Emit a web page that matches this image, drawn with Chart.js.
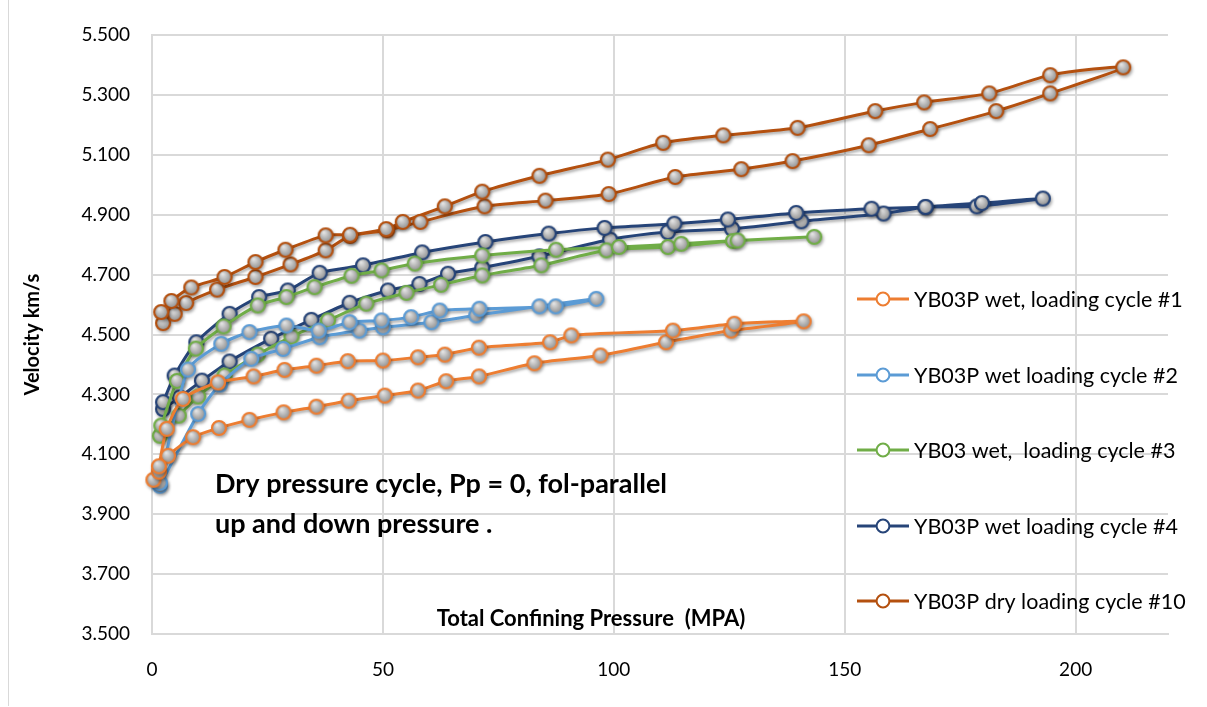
<!DOCTYPE html>
<html>
<head>
<meta charset="utf-8">
<script src="https://cdn.jsdelivr.net/npm/chart.js@4.4.1/dist/chart.umd.min.js"></script>
<style>
  html, body { margin: 0; padding: 0; background: #ffffff; }
  #wrap { width: 1207px; height: 707px; }
</style>
</head>
<body>
<div id="wrap"><canvas id="chart" width="1207" height="707"></canvas></div>
<script>
// Ultrasonic velocity vs. total confining pressure, sample YB03P.
// Each cycle is listed loading (up) then unloading (down).

const seriesLabels = [
  'YB03P wet, loading cycle #1',
  'YB03P wet loading cycle #2',
  'YB03 wet,  loading cycle #3',
  'YB03P wet loading cycle #4',
  'YB03P dry loading cycle #10'
];
const seriesColors = ['#ED7D31', '#5B9BD5', '#70AD47', '#264478', '#B4500F'];

// cycle #1 (wet)
const pressure1 = [0.3, 1.5, 3.5, 8.9, 14.5, 21.1, 28.5, 35.6, 42.6, 50.4, 57.6, 63.7, 70.8, 82.8, 97.1, 111.3, 125.4, 141.1,
                   126.1, 112.8, 90.8, 86.2, 70.8, 63.4, 57.6, 50.0, 42.4, 35.6, 28.7, 22.0, 14.3, 6.7, 3.2, 1.5];
const velocity1 = [4.015, 4.042, 4.095, 4.157, 4.188, 4.215, 4.240, 4.259, 4.279, 4.296, 4.313, 4.344, 4.360, 4.404, 4.430, 4.474, 4.513, 4.544,
                   4.536, 4.513, 4.497, 4.474, 4.456, 4.433, 4.424, 4.413, 4.411, 4.396, 4.382, 4.360, 4.340, 4.285, 4.185, 4.060];

// cycle #2 (wet)
const pressure2 = [1.7, 10.0, 14.7, 21.5, 28.4, 36.3, 44.9, 50.0, 60.5, 70.2, 83.9, 96.2,
                   87.4, 70.9, 62.3, 56.1, 49.7, 42.8, 36.1, 29.1, 21.1, 15.0, 7.8, 1.7];
const velocity2 = [3.995, 4.235, 4.333, 4.419, 4.452, 4.491, 4.513, 4.524, 4.541, 4.564, 4.594, 4.619,
                   4.594, 4.586, 4.580, 4.558, 4.547, 4.541, 4.513, 4.530, 4.508, 4.469, 4.383, 4.005];

// cycle #3 (wet)
const pressure3 = [1.7, 5.8, 10.0, 15.7, 22.9, 30.2, 38.1, 46.4, 55.1, 62.6, 71.5, 84.3, 98.4, 111.7, 125.8, 143.4,
                   126.8, 114.6, 101.1, 87.5, 71.5, 56.9, 49.7, 43.2, 35.2, 29.1, 22.9, 15.5, 9.5, 5.4, 2.0];
const velocity3 = [4.162, 4.229, 4.293, 4.363, 4.433, 4.493, 4.547, 4.603, 4.639, 4.666, 4.697, 4.731, 4.781, 4.792, 4.812, 4.826,
                   4.814, 4.803, 4.792, 4.783, 4.764, 4.737, 4.714, 4.696, 4.658, 4.625, 4.597, 4.527, 4.453, 4.345, 4.196];

// cycle #4 (wet)
const pressure4 = [2.4, 6.0, 10.8, 16.8, 25.8, 34.5, 42.8, 51.1, 57.9, 64.1, 71.5, 83.9, 99.2, 111.7, 125.6, 140.6, 158.4, 167.5, 178.6, 192.9,
                   179.7, 167.5, 155.8, 139.5, 124.7, 113.1, 98.0, 85.9, 72.2, 58.5, 45.7, 36.3, 29.4, 23.2, 16.8, 9.6, 4.9, 2.4];
const velocity4 = [4.251, 4.290, 4.346, 4.410, 4.486, 4.549, 4.606, 4.647, 4.669, 4.703, 4.723, 4.761, 4.817, 4.842, 4.853, 4.878, 4.904, 4.925, 4.928, 4.954,
                   4.939, 4.926, 4.920, 4.906, 4.884, 4.870, 4.856, 4.837, 4.809, 4.774, 4.731, 4.706, 4.647, 4.625, 4.569, 4.474, 4.363, 4.274];

// cycle #10 (dry)
const pressure10 = [2.4, 4.9, 7.4, 14.1, 22.4, 30.0, 37.6, 42.9, 50.9, 58.1, 72.0, 85.2, 98.9, 113.3, 127.6, 138.7, 155.2, 168.5, 182.8, 194.5, 210.3,
                    194.5, 181.3, 167.2, 156.6, 139.8, 123.7, 110.7, 98.7, 83.9, 71.5, 63.4, 54.3, 50.7, 42.9, 37.6, 28.9, 22.4, 15.7, 8.5, 4.2, 2.0];
const velocity10 = [4.538, 4.569, 4.605, 4.650, 4.692, 4.734, 4.781, 4.829, 4.848, 4.876, 4.928, 4.947, 4.969, 5.026, 5.052, 5.079, 5.132, 5.186, 5.246, 5.305, 5.392,
                    5.366, 5.305, 5.275, 5.246, 5.190, 5.165, 5.140, 5.084, 5.030, 4.977, 4.928, 4.876, 4.852, 4.833, 4.831, 4.783, 4.742, 4.692, 4.657, 4.612, 4.575];

const xTickValues = [0, 50, 100, 150, 200];
const yTickValues = [3.5, 3.7, 3.9, 4.1, 4.3, 4.5, 4.7, 4.9, 5.1, 5.3, 5.5];

const noteLines = ['Dry pressure cycle, Pp = 0, fol-parallel', 'up and down pressure .'];
const xTitle = 'Total Confining Pressure  (MPA)';
const yTitle = 'Velocity km/s';

const FONT = 'Lato, "Open Sans", sans-serif';
const GRID = '#d9d9d9';

function toPoints(xs, ys) {
  return xs.map((x, i) => ({ x: x, y: ys[i] }));
}

// Hollow circle marker with a grey shaded interior
function makeMarker(color) {
  const s = 22, c = document.createElement('canvas');
  c.width = s; c.height = s;
  const g = c.getContext('2d');
  const cx = s / 2, cy = s / 2, r = 7;
  const grad = g.createRadialGradient(cx - 2, cy - 3, 0.5, cx, cy, r + 1);
  grad.addColorStop(0, '#e4e4e4');
  grad.addColorStop(1, '#868686');
  g.beginPath();
  g.arc(cx, cy, r, 0, Math.PI * 2);
  g.fillStyle = grad;
  g.fill();
  g.lineWidth = 2.2;
  g.strokeStyle = color;
  g.stroke();
  return c;
}

const allPressures = [pressure1, pressure2, pressure3, pressure4, pressure10];
const allVelocities = [velocity1, velocity2, velocity3, velocity4, velocity10];

const datasets = seriesLabels.map((label, i) => ({
  label: label,
  data: toPoints(allPressures[i], allVelocities[i]),
  showLine: true,
  borderColor: seriesColors[i],
  backgroundColor: seriesColors[i],
  borderWidth: 3,
  tension: 0.25,
  pointStyle: makeMarker(seriesColors[i]),
  pointRadius: 7,
  pointHoverRadius: 7,
  clip: false
}));

// soft drop shadow under every series
const shadowPlugin = {
  id: 'seriesShadow',
  beforeDatasetDraw(chart) {
    const c = chart.ctx;
    c.save();
    c.shadowColor = 'rgba(0,0,0,0.35)';
    c.shadowBlur = 3;
    c.shadowOffsetX = 1.2;
    c.shadowOffsetY = 2;
  },
  afterDatasetDraw(chart) {
    chart.ctx.restore();
  }
};

// in-plot legend, axis caption and note text
const overlayPlugin = {
  id: 'overlay',
  afterDraw(chart) {
    const c = chart.ctx;
    c.save();

    // outer frame
    c.strokeStyle = '#d9d9d9';
    c.lineWidth = 1;
    c.beginPath();
    c.moveTo(8.5, 0);
    c.lineTo(8.5, 706);
    c.stroke();

    // note
    c.fillStyle = '#000000';
    c.font = 'bold 27px ' + FONT;
    c.textAlign = 'left';
    c.textBaseline = 'middle';
    c.fillText(noteLines[0], 215, 484);
    c.fillText(noteLines[1], 215, 524);

    // x axis caption inside the plot
    c.font = 'bold 22px ' + FONT;
    c.textAlign = 'center';
    c.fillText(xTitle, 591, 619);

    // legend
    const ly = [299, 375, 450, 526, 601];
    c.font = '21.5px ' + FONT;
    c.textAlign = 'left';
    chart.data.datasets.forEach((ds, i) => {
      const y = ly[i];
      c.strokeStyle = ds.borderColor;
      c.lineWidth = 3;
      c.beginPath();
      c.moveTo(857, y);
      c.lineTo(909, y);
      c.stroke();
      c.beginPath();
      c.arc(883, y, 6.4, 0, Math.PI * 2);
      c.fillStyle = '#ffffff';
      c.fill();
      c.lineWidth = 2;
      c.stroke();
      c.fillStyle = '#000000';
      c.fillText(ds.label, 914, y + 1);
    });
    c.restore();
  }
};

new Chart(document.getElementById('chart'), {
  type: 'scatter',
  data: { datasets: datasets },
  plugins: [shadowPlugin, overlayPlugin],
  options: {
    responsive: false,
    animation: false,
    devicePixelRatio: 1,
    layout: { padding: { top: 35, right: 39, left: 0, bottom: 0 } },
    plugins: {
      legend: { display: false },
      tooltip: { enabled: false }
    },
    scales: {
      x: {
        type: 'linear',
        min: 0,
        max: 220,
        afterFit(scale) { scale.height = 73; },
        afterBuildTicks(scale) { scale.ticks = xTickValues.map(v => ({ value: v })); },
        grid: { color: GRID, lineWidth: 2, drawTicks: false },
        border: { color: GRID, width: 2 },
        ticks: {
          padding: 24,
          color: '#000000',
          font: { family: FONT, size: 19 },
          callback: v => String(v)
        }
      },
      y: {
        type: 'linear',
        min: 3.5,
        max: 5.5,
        afterFit(scale) { scale.width = 152; },
        afterBuildTicks(scale) { scale.ticks = yTickValues.map(v => ({ value: v })); },
        grid: { color: GRID, lineWidth: 2, drawTicks: false },
        border: { color: GRID, width: 2 },
        title: {
          display: true,
          text: yTitle,
          color: '#000000',
          font: { family: FONT, size: 20, weight: 'bold' },
          padding: { top: 21, bottom: 0 }
        },
        ticks: {
          padding: 22,
          color: '#000000',
          font: { family: FONT, size: 19 },
          callback: v => Number(v).toFixed(3)
        }
      }
    }
  }
});
</script>
</body>
</html>
